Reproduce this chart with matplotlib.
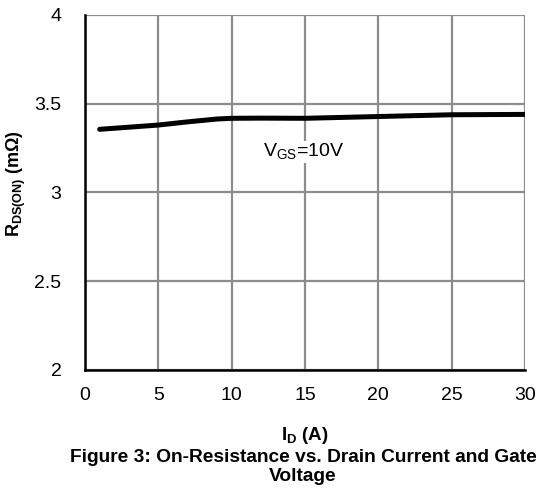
import matplotlib
matplotlib.use("Agg")
import matplotlib.pyplot as plt

plt.rcParams['font.family'] = ['Liberation Sans', 'DejaVu Sans']

# courbe
i_d = [1, 3, 5, 7, 9, 10, 12, 15, 20, 25, 30]
r_ds = [3.356, 3.368, 3.38, 3.398, 3.414, 3.418, 3.419, 3.418, 3.428, 3.438, 3.44]

xticks = [0, 5, 10, 15, 20, 25, 30]
yticks = [2, 2.5, 3, 3.5, 4]
yticklabels = ["2", "2.5", "3", "3.5", "4"]

fig = plt.figure(figsize=(5.36, 4.91), dpi=100)
ax = fig.add_axes([85/536, 1-370/491, 440/536, 355/491])

ax.plot(i_d, r_ds, color="black", lw=3.6, solid_capstyle="round", zorder=3)

ax.set_xlim(0, 30)
ax.set_ylim(2, 4)
ax.set_xticks(xticks)
ax.set_yticks(yticks)
ax.set_yticklabels(yticklabels)
ax.tick_params(length=0, labelsize=14, pad=12)
ax.tick_params(axis="y", pad=17)
ax.grid(True, color="#8c8c8c", lw=1.6)
ax.set_axisbelow(True)
for s in ["top", "right"]:
    ax.spines[s].set_visible(False)
for s in ["left", "bottom"]:
    ax.spines[s].set_linewidth(1.8)
    ax.spines[s].set_zorder(4)

ax.text(14.9, 3.228, r"V$_{\mathregular{GS}}$=10V", fontsize=14, ha="center", va="center",
        bbox=dict(facecolor="white", edgecolor="none", pad=0.5))

fig.text(16/536, 1-184/491, r"R$_{\mathregular{DS(ON)}}$ (m$\mathregular{\Omega}$)", rotation=90,
         fontsize=13, fontweight="bold", ha="center", va="center")
fig.text(305/536, 1-435/491, r"I$_{\mathregular{D}}$ (A)", fontsize=13.5, fontweight="bold",
         ha="center", va="center")
fig.text(303/536, 1-467/491, "Figure 3: On-Resistance vs. Drain Current and Gate\nVoltage",
         fontsize=13.8, fontweight="bold", ha="center", va="center", linespacing=1.2)

fig.savefig("out.png", dpi=100)
